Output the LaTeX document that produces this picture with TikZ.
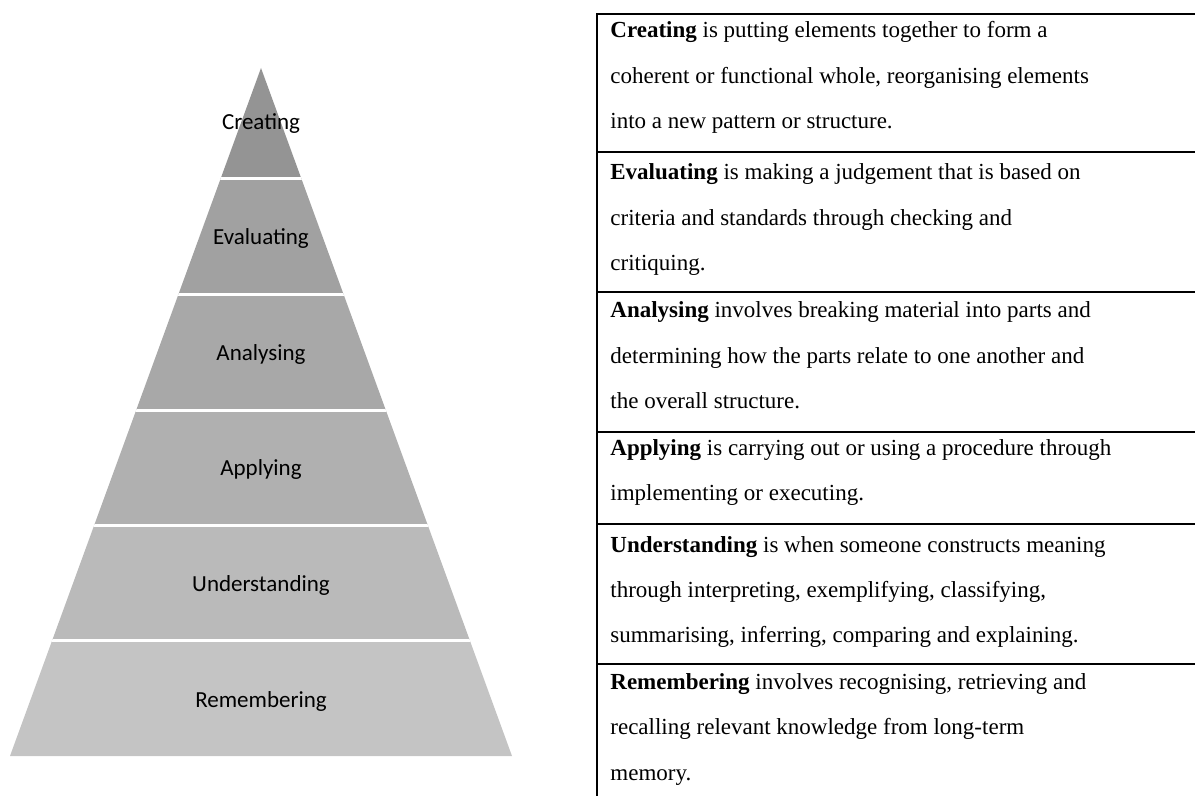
\documentclass[tikz,border=0pt]{standalone}
\usepackage{fontspec}
\setmainfont{Liberation Serif}
\newfontfamily\calibri{Carlito}
\usepackage{tikz}

\begin{document}
\begin{tikzpicture}[x=0.5pt, y=-0.5pt,
		niveau/.style={font=\calibri\fontsize{11.5}{14}\selectfont, anchor=base},
		texte/.style={font=\fontsize{11.5}{22.75}\selectfont, align=left, anchor=base west, inner sep=0pt}]
		\useasboundingbox (0,0) rectangle (1195,796);

		% Pyramide : six bandes de gris, de la plus foncée en haut
		\coordinate (S) at (261,68);
		\coordinate (G) at (10,756);
		\coordinate (D) at (512,756);
		\begin{scope}
			\clip (S) -- (G) -- (D) -- cycle;
			\fill[black!42] (0,60) rectangle (600,179);
			\fill[black!37] (0,179) rectangle (600,295);
			\fill[black!34] (0,295) rectangle (600,411);
			\fill[black!31] (0,411) rectangle (600,526);
			\fill[black!27] (0,526) rectangle (600,641);
			\fill[black!23] (0,641) rectangle (600,760);
			% Séparations blanches entre les niveaux
			\draw[white, line width=1.5pt] (0,179) -- (600,179);
			\draw[white, line width=1.5pt] (0,295) -- (600,295);
			\draw[white, line width=1.5pt] (0,411) -- (600,411);
			\draw[white, line width=1.5pt] (0,526) -- (600,526);
			\draw[white, line width=1.5pt] (0,641) -- (600,641);
		\end{scope}

		% Noms des niveaux
		\node[niveau] (L1) at (261,130) {Creating};
		\node[niveau] (L2) at (261,245) {Evaluating};
		\node[niveau] (L3) at (261,361) {Analysing};
		\node[niveau] (L4) at (261,476) {Applying};
		\node[niveau] (L5) at (261,592) {Understanding};
		\node[niveau] (L6) at (261,707) {Remembering};

		% Tableau des définitions
		\draw[line width=1pt] (597,796) -- (597,14) -- (1195,14);
		\draw[line width=1pt] (597,152) -- (1195,152);
		\draw[line width=1pt] (597,292) -- (1195,292);
		\draw[line width=1pt] (597,432) -- (1195,432);
		\draw[line width=1pt] (597,524) -- (1195,524);
		\draw[line width=1pt] (597,664) -- (1195,664);

		% (ancre sur la ligne de base de la dernière ligne)
		\node[texte] (T1) at (610,129) {\textbf{Creating} is putting elements together to form a\\
			coherent or functional whole, reorganising elements\\
			into a new pattern or structure.};
		\node[texte] (T2) at (610,271) {\textbf{Evaluating} is making a judgement that is based on\\
			criteria and standards through checking and\\
			critiquing.};
		\node[texte] (T3) at (610,409) {\textbf{Analysing} involves breaking material into parts and\\
			determining how the parts relate to one another and\\
			the overall structure.};
		\node[texte] (T4) at (610,501) {\textbf{Applying} is carrying out or using a procedure through\\
			implementing or executing.};
		\node[texte] (T5) at (610,643) {\textbf{Understanding} is when someone constructs meaning\\
			through interpreting, exemplifying, classifying,\\
			summarising, inferring, comparing and explaining.};
		\node[texte] (T6) at (610,780) {\textbf{Remembering} involves recognising, retrieving and\\
			recalling relevant knowledge from long-term\\
			memory.};
	\end{tikzpicture}
\end{document}
